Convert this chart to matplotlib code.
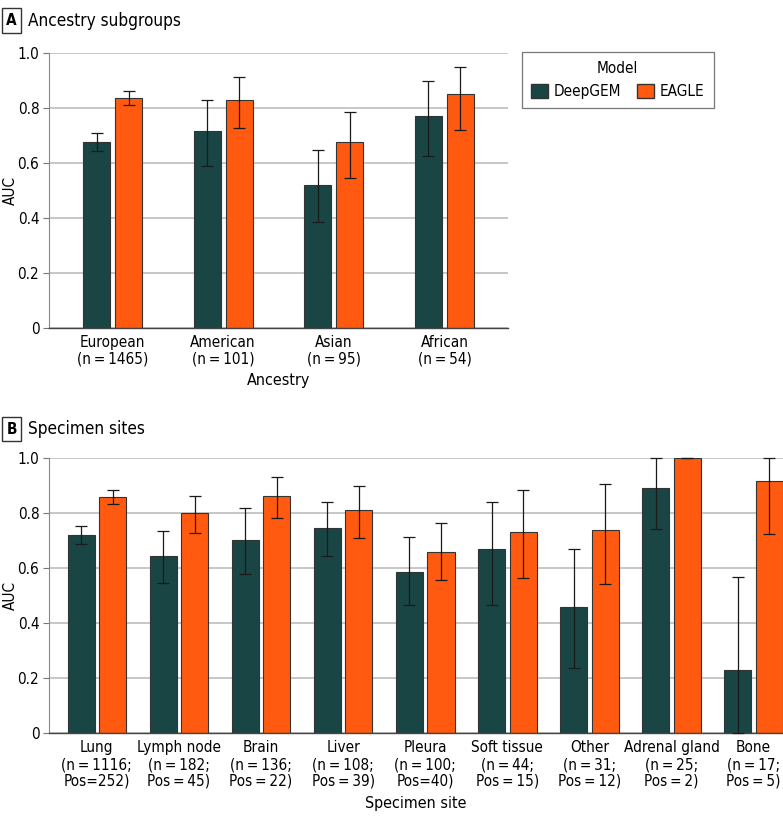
import numpy as np
import matplotlib
matplotlib.use("Agg")
import matplotlib.pyplot as plt
from matplotlib import font_manager
from matplotlib.patches import Patch

# 找一个窄体字体
narrow = None
for f in font_manager.fontManager.ttflist:
    if ("Narrow" in f.name or "Condensed" in f.name or f.stretch in ("condensed", "semi-condensed")) \
            and f.weight in (400, "normal", "regular"):
        narrow = f
        break
if narrow is not None:
    plt.rcParams["font.family"] = [narrow.name, "DejaVu Sans"]
    plt.rcParams["font.stretch"] = narrow.stretch
    scale = 1.0
else:
    plt.rcParams["font.family"] = ["DejaVu Sans"]
    scale = 0.85

T = "\u2009"  # 细空格

# 数据 - 图A 祖源亚组
anc_labels = [f"European\n(n{T}={T}1465)", f"American\n(n{T}={T}101)",
              f"Asian\n(n{T}={T}95)", f"African\n(n{T}={T}54)"]
anc_deepgem = [0.676, 0.714, 0.519, 0.771]
anc_deepgem_lo = [0.643, 0.589, 0.384, 0.625]
anc_deepgem_hi = [0.709, 0.827, 0.646, 0.898]
anc_eagle = [0.835, 0.829, 0.676, 0.851]
anc_eagle_lo = [0.811, 0.726, 0.545, 0.720]
anc_eagle_hi = [0.860, 0.911, 0.784, 0.947]

# 数据 - 图B 标本部位
site_labels = [f"Lung\n(n{T}={T}1116;\nPos=252)", f"Lymph node\n(n{T}={T}182;\nPos{T}={T}45)",
               f"Brain\n(n{T}={T}136;\nPos{T}={T}22)", f"Liver\n(n{T}={T}108;\nPos{T}={T}39)",
               f"Pleura\n(n{T}={T}100;\nPos=40)", f"Soft tissue\n(n{T}={T}44;\nPos{T}={T}15)",
               f"Other\n(n{T}={T}31;\nPos{T}={T}12)", f"Adrenal gland\n(n{T}={T}25;\nPos{T}={T}2)",
               f"Bone\n(n{T}={T}17;\nPos{T}={T}5)"]
site_deepgem = [0.722, 0.646, 0.704, 0.745, 0.585, 0.669, 0.458, 0.891, 0.230]
site_deepgem_lo = [0.687, 0.545, 0.579, 0.644, 0.468, 0.468, 0.236, 0.742, 0.0]
site_deepgem_hi = [0.755, 0.736, 0.818, 0.841, 0.714, 0.840, 0.670, 1.0, 0.570]
site_eagle = [0.858, 0.802, 0.864, 0.811, 0.661, 0.732, 0.740, 1.0, 0.916]
site_eagle_lo = [0.833, 0.727, 0.782, 0.709, 0.557, 0.566, 0.542, 1.0, 0.726]
site_eagle_hi = [0.884, 0.862, 0.931, 0.900, 0.766, 0.886, 0.908, 1.0, 1.0]

c_deep = "#1a4545"
c_eagle = "#ff5a10"
W, H = 783, 821
fs = 11 * scale


def draw_panel(ax, labels, d, dlo, dhi, e, elo, ehi, width, offset, xlim, xlabel, ax_w):
    x = np.arange(len(labels))
    d = np.array(d); e = np.array(e)
    ax.set_axisbelow(True)
    ax.yaxis.grid(True, color="#bdbdbd", lw=1.2)
    ax.bar(x - offset, d, width, color=c_deep, edgecolor="#333333", lw=0.8, zorder=2)
    ax.bar(x + offset, e, width, color=c_eagle, edgecolor="#333333", lw=0.8, zorder=2)
    ax.errorbar(x - offset, d, yerr=[d - np.array(dlo), np.array(dhi) - d], fmt="none",
                ecolor="#1a1a1a", elinewidth=0.9, capsize=4.5, capthick=0.9, zorder=3, clip_on=False)
    ax.errorbar(x + offset, e, yerr=[e - np.array(elo), np.array(ehi) - e], fmt="none",
                ecolor="#1a1a1a", elinewidth=0.9, capsize=4.5, capthick=0.9, zorder=3, clip_on=False)
    ax.set_xlim(*xlim)
    ax.set_ylim(0, 1.0)
    ax.set_yticks([0, 0.2, 0.4, 0.6, 0.8, 1.0])
    ax.set_yticklabels(["0", "0.2", "0.4", "0.6", "0.8", "1.0"])
    ax.set_xticks(x)
    ax.set_xticklabels(labels, linespacing=1.15)
    ax.tick_params(axis="x", length=0, pad=5, labelsize=fs)
    ax.tick_params(axis="y", length=4, color="#777777", labelsize=fs, pad=3)
    for s in ["top", "right"]:
        ax.spines[s].set_visible(False)
    ax.spines["left"].set_color("#888888")
    ax.spines["bottom"].set_color("#444444")
    ax.spines["bottom"].set_linewidth(1.0)
    ax.set_ylabel("AUC", fontsize=fs, va="center")
    ax.yaxis.set_label_coords(-39 / ax_w, 0.5)
    ax.set_xlabel(xlabel, fontsize=fs * 1.05, labelpad=5)


fig = plt.figure(figsize=(W / 100, H / 100), dpi=100)

axA = fig.add_axes([49 / W, (H - 327.7) / H, 459 / W, 275 / H])
draw_panel(axA, anc_labels, anc_deepgem, anc_deepgem_lo, anc_deepgem_hi,
           anc_eagle, anc_eagle_lo, anc_eagle_hi, 0.244, 0.1445, (-0.574, 3.574), "Ancestry", 459)

axB = fig.add_axes([49 / W, (H - 733.3) / H, 734 / W, 275 / H])
draw_panel(axB, site_labels, site_deepgem, site_deepgem_lo, site_deepgem_hi,
           site_eagle, site_eagle_lo, site_eagle_hi, 0.329, 0.192, (-0.582, 8.357), "Specimen site", 734)

# 面板标题
for lab, txt, yc in [("A", "Ancestry subgroups", 20.5), ("B", "Specimen sites", 429)]:
    fig.text(11.5 / W, 1 - yc / H, lab, ha="center", va="center", fontsize=fs, fontweight="bold",
             bbox=dict(boxstyle="square,pad=0.3", fc="white", ec="#333333", lw=1.0))
    fig.text(28 / W, 1 - yc / H, txt, ha="left", va="center", fontsize=fs * 1.12)

# 图例
handles = [Patch(facecolor=c_deep, edgecolor="#333333", label="DeepGEM"),
           Patch(facecolor=c_eagle, edgecolor="#333333", label="EAGLE")]
leg = fig.legend(handles=handles, title="Model", ncol=2, loc="upper left",
                 bbox_to_anchor=(522 / W, 1 - 52 / H), borderaxespad=0, frameon=True, fancybox=False,
                 edgecolor="#555555", fontsize=fs, title_fontsize=fs,
                 handlelength=1.1, handleheight=1.1, columnspacing=1.0, borderpad=0.6,
                 handletextpad=0.4)
leg.get_frame().set_linewidth(0.9)

fig.savefig("out.png", dpi=100)
